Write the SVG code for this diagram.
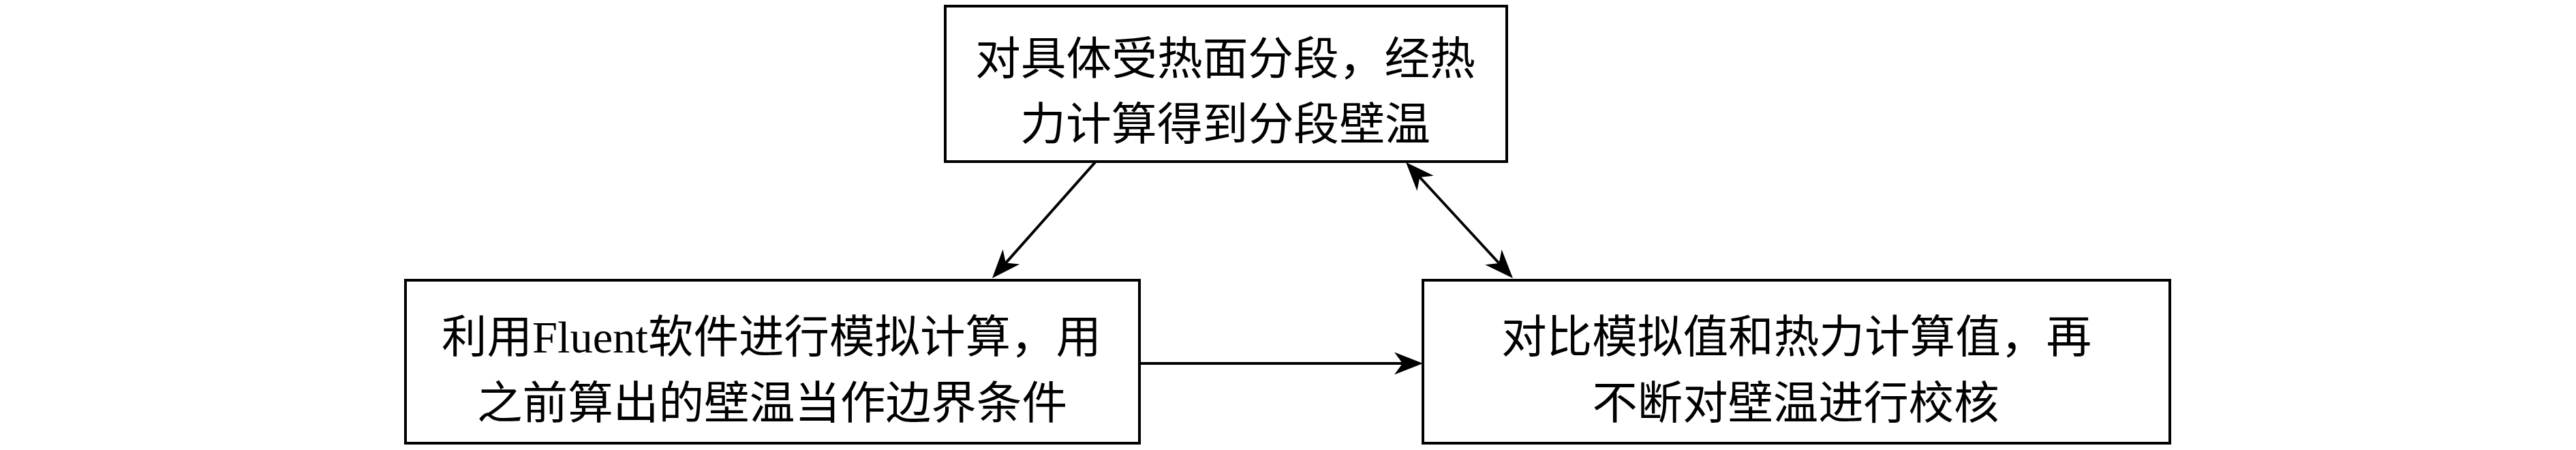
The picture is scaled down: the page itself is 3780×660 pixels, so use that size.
<svg xmlns="http://www.w3.org/2000/svg" width="3780" height="660" viewBox="0 0 3780 660">
<style>
.box{fill:#fff;stroke:#000;stroke-width:4}
.t{font-family:"Liberation Serif","Noto Sans CJK SC",serif;font-size:66px;fill:#000;text-anchor:middle}
.c{fill:none;stroke:#000;stroke-width:4}
</style>
<defs>
<marker id="ah" markerUnits="userSpaceOnUse" viewBox="-14 -18 46 36" markerWidth="46" markerHeight="36" refX="0" refY="0" orient="auto-start-reverse" overflow="visible">
<path d="M30,0 L-12,-16.5 L0,0 L-12,16.5 Z" fill="#000"/>
</marker>
</defs>
<rect width="3780" height="660" fill="#fff"/>
<g id="connectors">
<line class="c" x1="1607" y1="238" x2="1475.9" y2="385.6" marker-end="url(#ah)"/>
<line class="c" x1="2083.4" y1="260" x2="2199.6" y2="386" marker-start="url(#ah)" marker-end="url(#ah)"/>
<line class="c" x1="1672" y1="533" x2="2058" y2="533" marker-end="url(#ah)"/>
</g>
<g id="node-top">
<rect class="box" x="1387" y="9" width="824" height="228"/>
<text class="t" x="1798" y="109" textLength="734" lengthAdjust="spacingAndGlyphs">对具体受热面分段，经热</text>
<text class="t" x="1798" y="205" textLength="602" lengthAdjust="spacingAndGlyphs">力计算得到分段壁温</text>
</g>
<g id="node-left">
<rect class="box" x="595" y="411" width="1077" height="239"/>
<text class="t" x="1132" y="517" textLength="968" lengthAdjust="spacingAndGlyphs">利用Fluent软件进行模拟计算，用</text>
<text class="t" x="1133" y="614" textLength="866" lengthAdjust="spacingAndGlyphs">之前算出的壁温当作边界条件</text>
</g>
<g id="node-right">
<rect class="box" x="2088" y="411" width="1096" height="239"/>
<text class="t" x="2636" y="517" textLength="866" lengthAdjust="spacingAndGlyphs">对比模拟值和热力计算值，再</text>
<text class="t" x="2635" y="614" textLength="597" lengthAdjust="spacingAndGlyphs">不断对壁温进行校核</text>
</g>
</svg>
